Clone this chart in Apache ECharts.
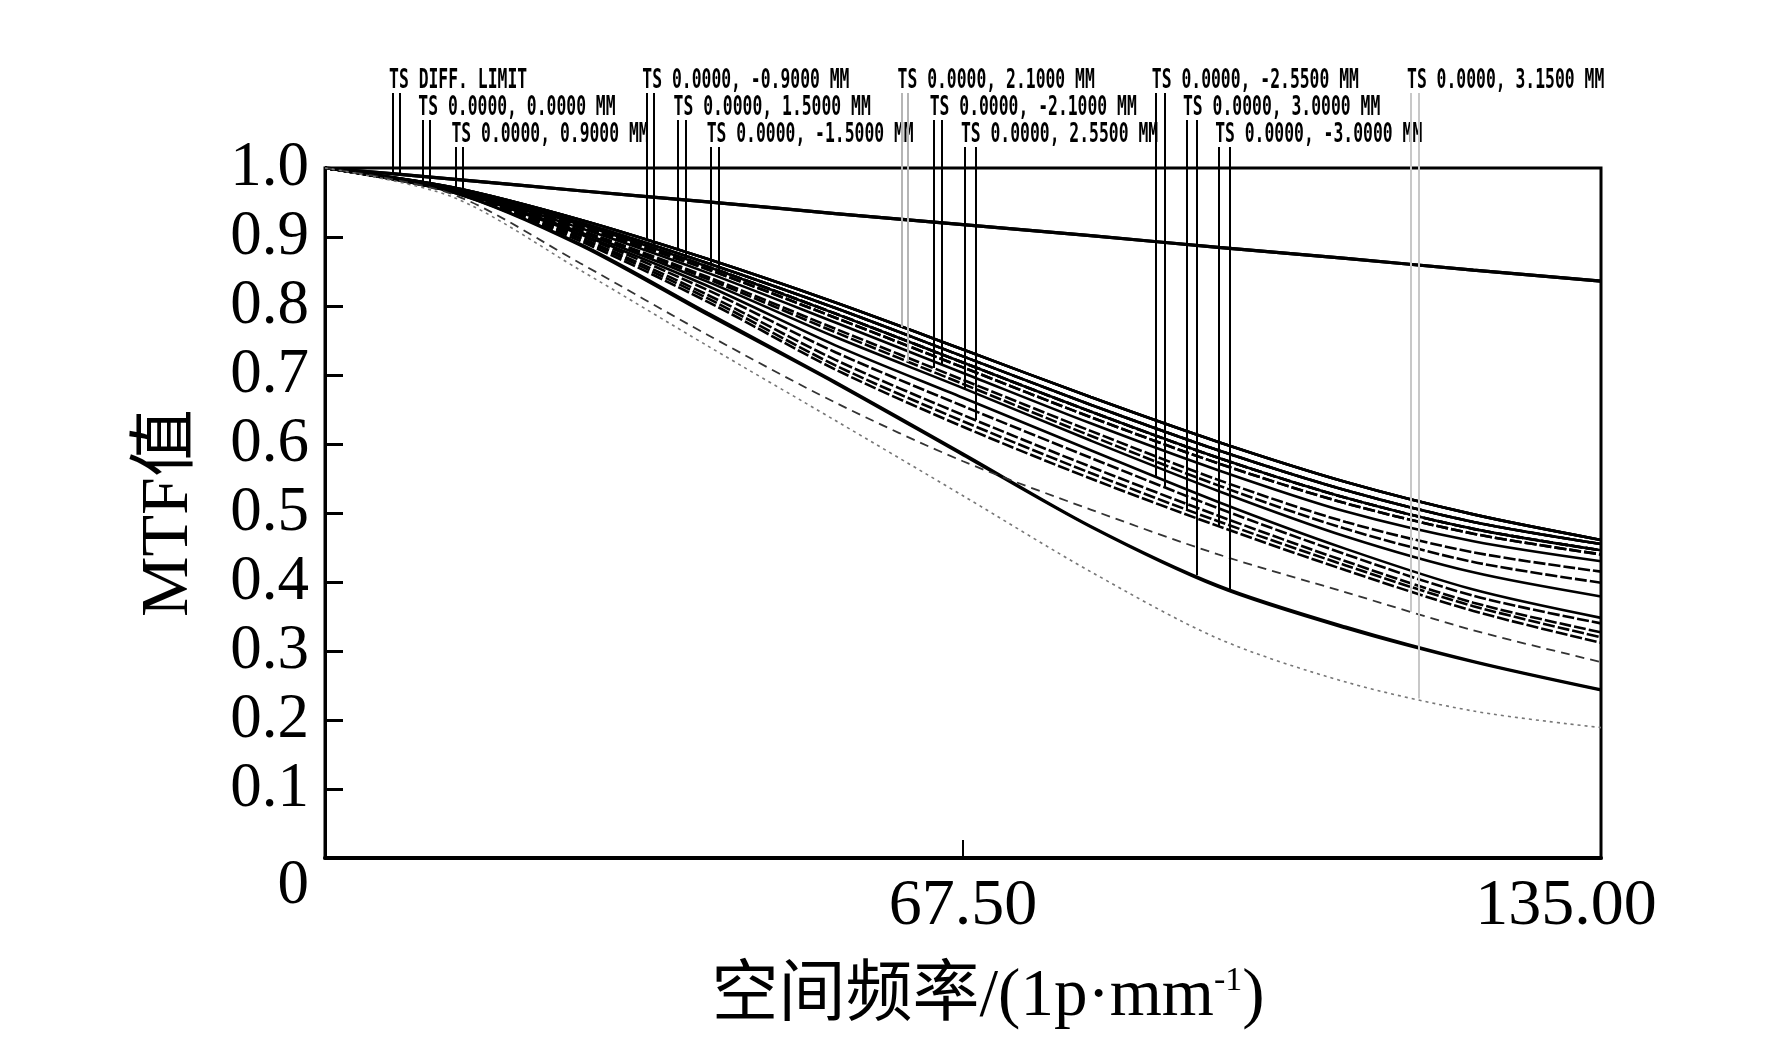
<!DOCTYPE html>
<html>
<head>
<meta charset="utf-8">
<script src="https://cdn.jsdelivr.net/npm/echarts@6/dist/echarts.min.js"></script>
<style>
html,body{margin:0;padding:0;background:#fff}
#chart{width:1772px;height:1063px}
</style>
</head>
<body>
<div id="chart"></div>
<script>
// spatial frequency samples (lp/mm)
var freq = [0, 13.5, 27, 40.5, 54, 67.5, 81, 94.5, 108, 121.5, 135];

// MTF curves
var diffLimit = [1, 0.984, 0.967, 0.951, 0.934, 0.918, 0.902, 0.885, 0.869, 0.852, 0.836];
var c1  = [1, 0.972, 0.925, 0.868, 0.805, 0.737, 0.668, 0.603, 0.545, 0.498, 0.461];
var c2  = [1, 0.971, 0.921, 0.862, 0.797, 0.727, 0.657, 0.591, 0.533, 0.487, 0.455];
var c3  = [1, 0.970, 0.918, 0.857, 0.789, 0.718, 0.647, 0.580, 0.522, 0.477, 0.446];
var c4  = [1, 0.970, 0.915, 0.853, 0.783, 0.711, 0.639, 0.572, 0.514, 0.470, 0.440];
var c5  = [1, 0.969, 0.913, 0.848, 0.776, 0.703, 0.630, 0.562, 0.502, 0.459, 0.430];
var c6  = [1, 0.969, 0.910, 0.842, 0.767, 0.693, 0.619, 0.548, 0.487, 0.443, 0.415];
var c7  = [1, 0.968, 0.909, 0.839, 0.762, 0.687, 0.612, 0.540, 0.477, 0.429, 0.399];
var c8  = [1, 0.968, 0.907, 0.835, 0.755, 0.681, 0.605, 0.532, 0.466, 0.414, 0.379];
var c9  = [1, 0.967, 0.904, 0.829, 0.743, 0.667, 0.591, 0.516, 0.448, 0.389, 0.348];
var c10 = [1, 0.967, 0.902, 0.823, 0.733, 0.655, 0.580, 0.507, 0.440, 0.380, 0.340];
var c11 = [1, 0.966, 0.899, 0.816, 0.722, 0.642, 0.567, 0.496, 0.430, 0.370, 0.327];
var c12 = [1, 0.966, 0.897, 0.811, 0.714, 0.633, 0.558, 0.488, 0.424, 0.365, 0.320];
var c14 = [1, 0.965, 0.894, 0.806, 0.708, 0.625, 0.550, 0.481, 0.417, 0.358, 0.312];
var low30  = [1, 0.965, 0.890, 0.790, 0.690, 0.586, 0.481, 0.395, 0.335, 0.285, 0.244];
var low30n = [1, 0.965, 0.888, 0.787, 0.688, 0.584, 0.480, 0.393, 0.333, 0.284, 0.243];
var edgeT = [1, 0.962, 0.862, 0.758, 0.660, 0.575, 0.505, 0.440, 0.385, 0.330, 0.284];
var edgeS = [1, 0.958, 0.852, 0.742, 0.634, 0.525, 0.415, 0.318, 0.255, 0.213, 0.189];

var fieldLabels = [
    'TS DIFF. LIMIT', 'TS 0.0000, 0.0000 MM', 'TS 0.0000, 0.9000 MM',
    'TS 0.0000, -0.9000 MM', 'TS 0.0000, 1.5000 MM', 'TS 0.0000, -1.5000 MM',
    'TS 0.0000, 2.1000 MM', 'TS 0.0000, -2.1000 MM', 'TS 0.0000, 2.5500 MM',
    'TS 0.0000, -2.5500 MM', 'TS 0.0000, 3.0000 MM', 'TS 0.0000, -3.0000 MM',
    'TS 0.0000, 3.1500 MM'
];
var fieldT = [diffLimit, c3, c2, c1, c1, c2, c1, c5, c8, c9, low30, low30n, edgeT];
var fieldS = [diffLimit, c3, c4, c2, c3, c4, c7, c6, c11, c10, c12, c14, edgeS];
// frequency where each label's pointer lines hit its curves
var leaderT = [7.2, 10.3, 13.8, 34.0, 37.3, 40.8, 61.0, 65.3, 67.7, 87.9, 92.2, 95.7, 114.9];
var leaderS = [7.9, 11.1, 14.6, 34.8, 38.2, 41.7, 61.7, 64.4, 68.8, 88.8, 91.2, 94.6, 115.7];
var labelRow = [0, 1, 2, 0, 1, 2, 0, 1, 2, 0, 1, 2, 0];

var rowCenter = [81, 108, 135];
var rowBottom = [93, 120, 147];
var serif = '"Liberation Serif", "Times New Roman", "Noto Sans CJK SC", serif';

function valueAt(arr, x) {
    for (var k = 0; k < freq.length - 1; k++) {
        if (x >= freq[k] && x <= freq[k + 1]) {
            var t = (x - freq[k]) / (freq[k + 1] - freq[k]);
            return arr[k] + (arr[k + 1] - arr[k]) * t;
        }
    }
    return arr[arr.length - 1];
}

function leaderColor(i) {
    if (i === 6) return '#b5b5b5';
    if (i === 12) return '#c8c8c8';
    return '#000';
}

var series = [];
for (var i = 0; i < fieldLabels.length; i++) {
    var pairs = [['T', fieldT[i], leaderT[i]], ['S', fieldS[i], leaderS[i]]];
    for (var p = 0; p < 2; p++) {
        var arr = pairs[p][1];
        var lx = pairs[p][2];
        var ly = valueAt(arr, lx);
        var style = {color: '#000', width: 2.6, type: p === 0 ? 'solid' : [12, 3]};
        if (i === 0) style = {color: '#000', width: 3.2, type: 'solid'};
        if (i === 12 && p === 0) style = {color: '#333', width: 1.8, type: [9, 6]};
        if (i === 12 && p === 1) style = {color: '#777', width: 1.6, type: [3, 4]};
        series.push({
            type: 'line',
            name: fieldLabels[i] + ' ' + pairs[p][0],
            data: freq.map(function (f, k) { return [f, arr[k]]; }),
            showSymbol: false,
            smooth: 0.3,
            clip: false,
            lineStyle: style,
            animation: false,
            markLine: {
                silent: true,
                animation: false,
                symbol: ['none', 'none'],
                label: {show: false},
                lineStyle: {color: leaderColor(i), width: 2, type: 'solid'},
                data: [[{coord: [lx, ly]}, {coord: [lx, ly], y: rowBottom[labelRow[i]]}]]
            }
        });
    }
}

var chart = echarts.init(document.getElementById('chart'));
chart.setOption({
    backgroundColor: '#fff',
    animation: false,
    grid: {
        left: 325, right: 171, top: 168, bottom: 205,
        show: true, borderColor: '#000', borderWidth: 3
    },
    xAxis: {
        type: 'value', min: 0, max: 135, interval: 67.5,
        name: '{a|空间频率/(1p·mm}{s|-1}{a|)}',
        nameLocation: 'middle', nameGap: 106,
        nameTextStyle: {
            padding: [0, 0, 0, 50],
            rich: {
                a: {fontFamily: serif, fontSize: 67, color: '#000'},
                s: {fontFamily: serif, fontSize: 34, color: '#000', verticalAlign: 'top'}
            }
        },
        axisLine: {show: true, lineStyle: {color: '#000', width: 4}},
        axisTick: {show: true, inside: true, length: 18, lineStyle: {color: '#000', width: 2}},
        splitLine: {show: false},
        axisLabel: {
            margin: 16, fontFamily: serif, fontSize: 66, color: '#000',
            formatter: function (v) {
                if (v === 0) return '';
                if (v === 135) return '{r|135.00}';
                return v.toFixed(2);
            },
            rich: {r: {fontFamily: serif, fontSize: 66, color: '#000', padding: [0, 70, 0, 0]}}
        }
    },
    yAxis: {
        type: 'value', min: 0, max: 1, interval: 0.1,
        name: 'MTF值', nameLocation: 'middle', nameGap: 122, nameRotate: 90,
        nameTextStyle: {fontFamily: serif, fontSize: 68, color: '#000'},
        axisLine: {show: true, lineStyle: {color: '#000', width: 3}},
        axisTick: {show: true, inside: true, length: 18, lineStyle: {color: '#000', width: 3}},
        splitLine: {show: false},
        axisLabel: {
            margin: 16, fontFamily: serif, fontSize: 63, color: '#000',
            formatter: function (v) { return v === 0 ? '{z|0}' : v.toFixed(1); },
            rich: {z: {fontFamily: serif, fontSize: 63, color: '#000', padding: [56, 0, 0, 0]}}
        }
    },
    series: series
});

// field labels above the plot, placed from the pointer positions
var texts = [];
for (var j = 0; j < fieldLabels.length; j++) {
    var px = chart.convertToPixel({xAxisIndex: 0, yAxisIndex: 0}, [Math.min(leaderT[j], leaderS[j]), 0])[0];
    texts.push({
        type: 'text',
        x: px - 4,
        y: rowCenter[labelRow[j]],
        scaleX: 0.63,
        silent: true,
        style: {
            text: fieldLabels[j],
            font: 'bold 26px "DejaVu Sans Mono", monospace',
            fill: '#000',
            align: 'left',
            verticalAlign: 'middle'
        }
    });
}
chart.setOption({graphic: texts});
</script>
</body>
</html>
